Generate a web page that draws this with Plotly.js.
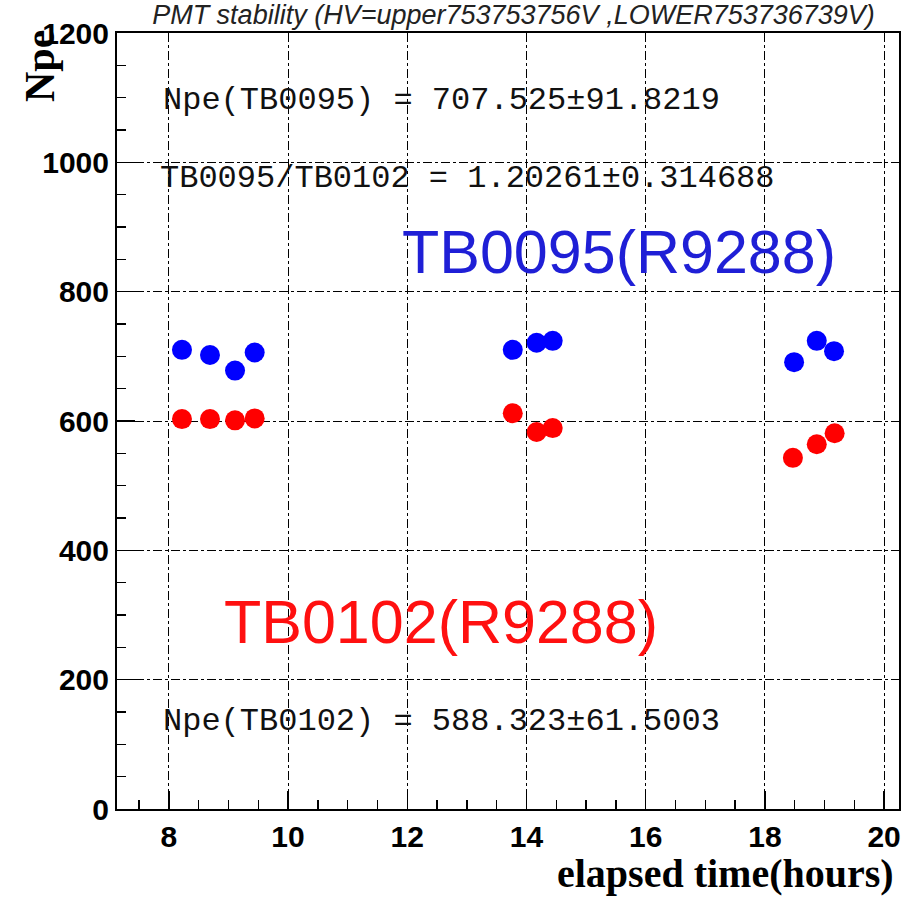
<!DOCTYPE html>
<html>
<head>
<meta charset="utf-8">
<script src="https://cdn.plot.ly/plotly-3.0.1.min.js"></script>
<style>html,body{margin:0;padding:0;background:#fff;}</style>
</head>
<body>
<div id="chart" style="width:918px;height:897px;"></div>
<script>
// elapsed time (hours) of each measurement
const timeTB0095 = [8.22, 8.69, 9.11, 9.44, 13.77, 14.17, 14.44, 18.49, 18.87, 19.16];
const npeTB0095  = [710, 702, 678, 706, 710, 721, 724, 691, 724, 708];
const timeTB0102 = [8.22, 8.69, 9.11, 9.44, 13.77, 14.17, 14.44, 18.47, 18.87, 19.17];
const npeTB0102  = [603, 603, 601, 604, 612, 583, 589, 543, 564, 581];

const xTickVals = [8, 10, 12, 14, 16, 18, 20];
const yTickVals = [0, 200, 400, 600, 800, 1000, 1200];

const chartTitle = "PMT stability (HV=upper753753756V ,LOWER753736739V)";
const statTexts = [
  "Npe(TB0095) = 707.525±91.8219",
  "TB0095/TB0102 = 1.20261±0.314688",
  "Npe(TB0102) = 588.323±61.5003"
];
const seriesLabels = ["TB0095(R9288)", "TB0102(R9288)"];

const traces = [
  {x: timeTB0095, y: npeTB0095, type: 'scatter', mode: 'markers',
   marker: {color: '#0000ff', size: 20, symbol: 'circle'}, name: seriesLabels[0]},
  {x: timeTB0102, y: npeTB0102, type: 'scatter', mode: 'markers',
   marker: {color: '#ff0000', size: 20, symbol: 'circle'}, name: seriesLabels[1]}
];

const tickFont = {family: 'Liberation Sans', size: 30, color: '#000', weight: 'bold'};
const monoFont = {family: 'Liberation Mono', size: 32, color: '#111'};

const layout = {
  width: 918, height: 897,
  margin: {l: 117, r: 19, t: 33, b: 88, pad: 0},
  paper_bgcolor: '#fff', plot_bgcolor: '#fff',
  showlegend: false,
  title: {text: chartTitle, font: {family: 'Liberation Sans', size: 27, style: 'italic', color: '#222'},
          xref: 'paper', x: 0.507, xanchor: 'center', yref: 'container', y: 1 - 15/897, yanchor: 'middle'},
  xaxis: {
    range: [7.13, 20.25], tickvals: xTickVals, ticktext: xTickVals.map(String),
    ticks: 'inside', ticklen: 18, tickwidth: 1.5, tickcolor: '#000',
    minor: {dtick: 0.5, tick0: 0, ticks: 'inside', ticklen: 9, tickwidth: 1.5, tickcolor: '#000', showgrid: false},
    showgrid: true, gridcolor: '#000', gridwidth: 1, griddash: 'dashdot',
    showline: true, linecolor: '#000', linewidth: 2, mirror: true,
    zeroline: false, tickfont: tickFont
  },
  yaxis: {
    range: [0, 1200], tickvals: yTickVals, ticktext: yTickVals.map(String),
    ticks: 'inside', ticklen: 18, tickwidth: 1.5, tickcolor: '#000',
    minor: {dtick: 50, tick0: 0, ticks: 'inside', ticklen: 9, tickwidth: 1.5, tickcolor: '#000', showgrid: false},
    showgrid: true, gridcolor: '#000', gridwidth: 1, griddash: 'dashdot',
    showline: true, linecolor: '#000', linewidth: 2, mirror: true,
    zeroline: false, tickfont: tickFont
  },
  annotations: [
    {text: statTexts[0], xref: 'paper', yref: 'paper', x: (161-117)/782, y: (809-100)/776,
     xanchor: 'left', yanchor: 'middle', showarrow: false, font: monoFont},
    {text: statTexts[1], xref: 'paper', yref: 'paper', x: (158-117)/782, y: (809-178)/776,
     xanchor: 'left', yanchor: 'middle', showarrow: false, font: monoFont},
    {text: statTexts[2], xref: 'paper', yref: 'paper', x: (161-117)/782, y: (809-721)/776,
     xanchor: 'left', yanchor: 'middle', showarrow: false, font: monoFont},
    {text: seriesLabels[0], xref: 'paper', yref: 'paper', x: (400-117)/782, y: (809-252)/776,
     xanchor: 'left', yanchor: 'middle', showarrow: false,
     font: {family: 'Liberation Sans', size: 61, color: '#1f1fd6'}},
    {text: seriesLabels[1], xref: 'paper', yref: 'paper', x: (222-117)/782, y: (809-622)/776,
     xanchor: 'left', yanchor: 'middle', showarrow: false,
     font: {family: 'Liberation Sans', size: 61, color: '#ff1010'}},
    {text: 'Npe', xref: 'paper', yref: 'paper', x: (40-117)/782, y: (809-28)/776,
     xanchor: 'center', yanchor: 'top', textangle: -90, showarrow: false,
     font: {family: 'Liberation Serif', size: 42, color: '#000', weight: 'bold'}},
    {text: 'elapsed time(hours)', xref: 'paper', yref: 'paper', x: (895-117)/782, y: (809-873)/776,
     xanchor: 'right', yanchor: 'middle', showarrow: false, borderpad: 0,
     font: {family: 'Liberation Serif', size: 40, color: '#000', weight: 'bold'}}
  ]
};

Plotly.newPlot('chart', traces, layout, {staticPlot: true, displayModeBar: false});
</script>
</body>
</html>
